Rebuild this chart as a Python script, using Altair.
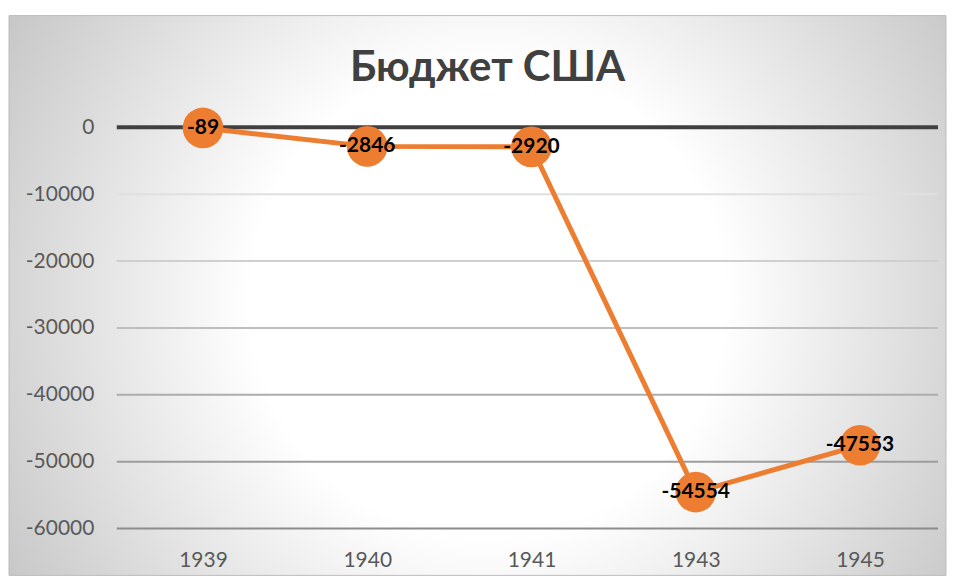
import altair as alt
import pandas as pd

# ---- data ----
years = ["1939", "1940", "1941", "1943", "1945"]
balance = [-89, -2846, -2920, -54554, -47553]
y_ticks = [0, -10000, -20000, -30000, -40000, -50000, -60000]

df = pd.DataFrame({"year": years, "value": balance})
df["label"] = [str(v) for v in balance]
grid_df = pd.DataFrame({"tick": [t for t in y_ticks if t != 0]})
zero_df = pd.DataFrame({"value": [0]})

W, H = 823, 402
FONT = "Lato, Open Sans, sans-serif"
ORANGE = "#ED7D31"

yscale = alt.Scale(domain=[-60000, 0], nice=False, zero=False)
xscale = alt.Scale(align=0.525)

gradient = {
    "gradient": "radial",
    "x1": 0.511, "y1": 0.505, "r1": 0,
    "x2": 0.511, "y2": 0.505, "r2": 0.6,
    "stops": [
        {"offset": 0, "color": "#ffffff"},
        {"offset": 0.42, "color": "#ffffff"},
        {"offset": 1, "color": "#c6c6c6"},
    ],
}

bg = alt.Chart(alt.Data(values=[{"a": 1}])).mark_rect(
    fill=gradient, stroke="#bdbdbd", strokeWidth=1
).encode(
    x=alt.value(-108), x2=alt.value(W + 8),
    y=alt.value(-112), y2=alt.value(H + 47),
)

grid = alt.Chart(grid_df).mark_rule(strokeWidth=2).encode(
    y=alt.Y(
        "tick:Q", scale=yscale, title=None,
        axis=alt.Axis(
            values=y_ticks, grid=False, domain=False, ticks=False,
            tickSize=0, labelPadding=23, labelFontSize=21, labelFont=FONT,
            labelColor="#595959", labelExpr="'' + datum.value", zindex=1,
        ),
    ),
    color=alt.Color(
        "tick:Q",
        scale=alt.Scale(domain=[-60000, -10000], range=["#8c8c8c", "#e0e0e0"]),
        legend=None,
    ),
)

zero = alt.Chart(zero_df).mark_rule(color="#404040", strokeWidth=4).encode(
    y=alt.Y("value:Q", scale=yscale)
)

xenc = alt.X(
    "year:N", sort=None, title=None, scale=xscale,
    axis=alt.Axis(
        labelAngle=0, grid=False, domain=False, ticks=False, tickSize=0,
        labelPadding=21, labelFontSize=21, labelFont=FONT,
        labelColor="#595959", zindex=1,
    ),
)

line = alt.Chart(df).mark_line(color=ORANGE, strokeWidth=5).encode(
    x=xenc, y=alt.Y("value:Q", scale=yscale)
)
points = alt.Chart(df).mark_circle(color=ORANGE, size=1660, opacity=1).encode(
    x=xenc, y=alt.Y("value:Q", scale=yscale)
)
labels = alt.Chart(df).mark_text(
    fontSize=21, fontWeight="bold", font=FONT, color="#000000",
    align="center", baseline="middle",
).encode(
    x=xenc, y=alt.Y("value:Q", scale=yscale), text="label:N"
)

chart = alt.layer(bg, grid, zero, line, points, labels).properties(
    width=W, height=H,
    padding={"left": 0, "top": 6, "right": 0, "bottom": 0},
    title=alt.Title(
        "Бюджет США", fontSize=42, font=FONT, fontWeight="bold",
        color="#404040", anchor="middle", dx=-40, offset=-108,
        baseline="alphabetic",
    ),
).configure_view(stroke=None)

chart.save("out.html", embed_options={"renderer": "svg", "actions": False})
